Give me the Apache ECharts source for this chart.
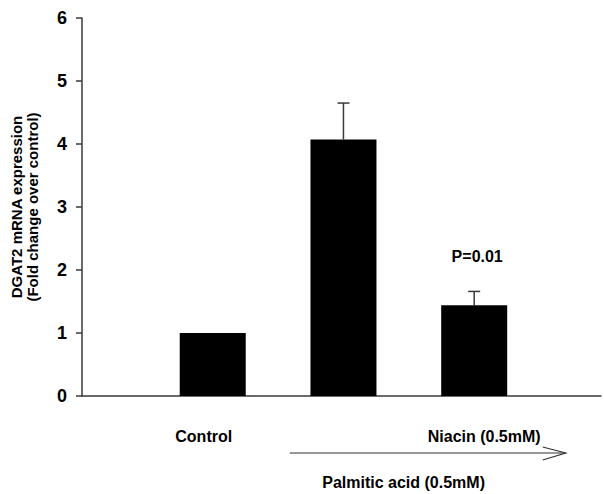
<!DOCTYPE html>
<html>
<head>
<meta charset="utf-8">
<script src="https://cdn.jsdelivr.net/npm/echarts@6/dist/echarts.min.js"></script>
<style>
html,body{margin:0;padding:0;background:#fff;}
#c{width:604px;height:494px;}
</style>
</head>
<body>
<div id="c"></div>
<script>
// ---- data ----
var positions = [1, 2, 3];
var tickLabels = ['Control', '', 'Niacin (0.5mM)'];
var values = [1.0, 4.07, 1.44];
var errors = [0, 0.58, 0.22];
var pLabels = ['', '', 'P=0.01'];
var yTicks = [0, 1, 2, 3, 4, 5, 6];
var yName = 'DGAT2 mRNA expression\n(Fold change over control)';
var bracketLabel = 'Palmitic acid (0.5mM)';
var arrowFrom = 1.59, arrowTo = 3.70, bracketCenter = 2.46;

var FONT = '"Liberation Sans", Arial, sans-serif';
var AXIS = '#3a3a3a';

var barData = positions.map(function (p, i) { return [p, values[i]]; });
var errData = positions.map(function (p, i) { return [p, values[i], errors[i], pLabels[i]]; });

var chart = echarts.init(document.getElementById('c'), null, {renderer: 'svg'});
chart.setOption({
  animation: false,
  backgroundColor: '#fff',
  grid: {left: 80, right: 0, top: 18, bottom: 98, containLabel: false},
  xAxis: {
    type: 'value', min: 0, max: 3.97, interval: 1,
    splitLine: {show: false},
    axisTick: {show: false},
    axisLine: {show: true, lineStyle: {color: AXIS, width: 1.5}},
    axisLabel: {
      margin: 32,
      fontFamily: FONT, fontSize: 16, fontWeight: 'bold', color: '#000',
      formatter: function (v) {
        var i = positions.indexOf(v);
        if (i < 0 || !tickLabels[i]) return '';
        return i === 0 ? '{l|' + tickLabels[i] + '}' : '{r|' + tickLabels[i] + '}';
      },
      rich: {
        l: {fontFamily: FONT, fontSize: 16, fontWeight: 'bold', color: '#000', padding: [0, 18, 0, 0]},
        r: {fontFamily: FONT, fontSize: 16, fontWeight: 'bold', color: '#000', padding: [0, 0, 0, 20]}
      }
    }
  },
  yAxis: {
    type: 'value', min: yTicks[0], max: yTicks[yTicks.length - 1], interval: 1,
    splitLine: {show: false},
    axisLine: {show: true, lineStyle: {color: AXIS, width: 1.5}},
    axisTick: {show: true, length: 6, inside: false, lineStyle: {color: AXIS, width: 1.5}},
    axisLabel: {margin: 15, fontFamily: FONT, fontSize: 18, fontWeight: 'bold', color: '#000'},
    name: yName,
    nameLocation: 'middle',
    nameRotate: 90,
    nameGap: 42,
    nameTextStyle: {fontFamily: FONT, fontSize: 15, fontWeight: 'bold', color: '#000', lineHeight: 16}
  },
  series: [
    {
      type: 'bar',
      data: barData,
      barWidth: 66,
      itemStyle: {color: '#000'},
      z: 2
    },
    {
      type: 'custom',
      data: errData,
      z: 3,
      renderItem: function (params, api) {
        var x = api.value(0), v = api.value(1), e = api.value(2);
        var lbl = errData[params.dataIndex][3];
        var children = [];
        var top = api.coord([x, v + e]);
        var base = api.coord([x, v]);
        if (e > 0) {
          children.push({type: 'line', shape: {x1: top[0], y1: base[1], x2: top[0], y2: top[1]},
            style: {stroke: AXIS, lineWidth: 1.5}});
          children.push({type: 'line', shape: {x1: top[0] - 6, y1: top[1], x2: top[0] + 6, y2: top[1]},
            style: {stroke: AXIS, lineWidth: 1.5}});
        }
        if (lbl) {
          children.push({type: 'text', x: top[0] + 3, y: top[1] - 35,
            style: {text: lbl, fontFamily: FONT, fontSize: 16, fontWeight: 'bold', fill: '#000',
              align: 'center', verticalAlign: 'middle'}});
        }
        return {type: 'group', children: children};
      }
    }
  ]
});

// bracket arrow + label, placed through the x scale
var x1 = chart.convertToPixel({xAxisIndex: 0}, arrowFrom);
var x2 = chart.convertToPixel({xAxisIndex: 0}, arrowTo);
var xc = chart.convertToPixel({xAxisIndex: 0}, bracketCenter);
var ay = 453;
chart.setOption({
  graphic: [
    {type: 'line', shape: {x1: x1, y1: ay, x2: x2, y2: ay}, style: {stroke: '#333', lineWidth: 1.2}},
    {type: 'polyline', shape: {points: [[x2 - 23, ay - 6], [x2, ay], [x2 - 23, ay + 7]]},
      style: {stroke: '#333', lineWidth: 1.2, fill: null}},
    {type: 'text', x: xc, y: 482, style: {text: bracketLabel, fontFamily: FONT, fontSize: 16,
      fontWeight: 'bold', fill: '#000', align: 'center', verticalAlign: 'middle'}}
  ]
});
</script>
</body>
</html>
